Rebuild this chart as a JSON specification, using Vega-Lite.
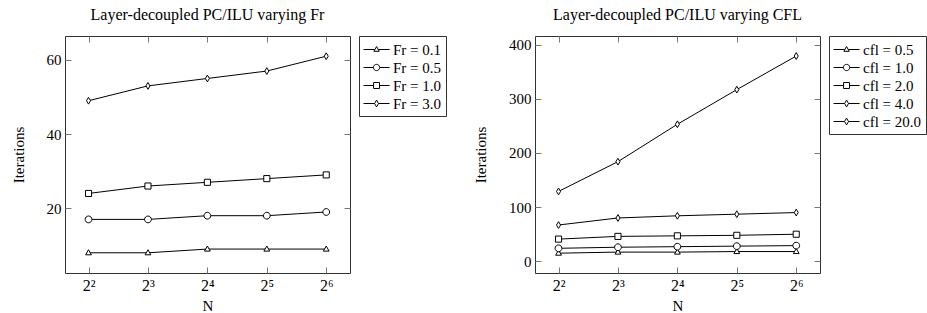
{
  "$schema": "https://vega.github.io/schema/vega-lite/v6.json",
  "padding": {"left": 10, "top": 6, "right": 0, "bottom": 0},
  "datasets": {
    "fr": [
      {"s": "Fr = 0.1", "N": 4, "it": 8}, {"s": "Fr = 0.1", "N": 8, "it": 8}, {"s": "Fr = 0.1", "N": 16, "it": 9}, {"s": "Fr = 0.1", "N": 32, "it": 9}, {"s": "Fr = 0.1", "N": 64, "it": 9},
      {"s": "Fr = 0.5", "N": 4, "it": 17}, {"s": "Fr = 0.5", "N": 8, "it": 17}, {"s": "Fr = 0.5", "N": 16, "it": 18}, {"s": "Fr = 0.5", "N": 32, "it": 18}, {"s": "Fr = 0.5", "N": 64, "it": 19},
      {"s": "Fr = 1.0", "N": 4, "it": 24}, {"s": "Fr = 1.0", "N": 8, "it": 26}, {"s": "Fr = 1.0", "N": 16, "it": 27}, {"s": "Fr = 1.0", "N": 32, "it": 28}, {"s": "Fr = 1.0", "N": 64, "it": 29},
      {"s": "Fr = 3.0", "N": 4, "it": 49}, {"s": "Fr = 3.0", "N": 8, "it": 53}, {"s": "Fr = 3.0", "N": 16, "it": 55}, {"s": "Fr = 3.0", "N": 32, "it": 57}, {"s": "Fr = 3.0", "N": 64, "it": 61}
    ],
    "cfl": [
      {"s": "cfl = 0.5", "N": 4, "it": 15}, {"s": "cfl = 0.5", "N": 8, "it": 17}, {"s": "cfl = 0.5", "N": 16, "it": 17}, {"s": "cfl = 0.5", "N": 32, "it": 18}, {"s": "cfl = 0.5", "N": 64, "it": 18},
      {"s": "cfl = 1.0", "N": 4, "it": 24}, {"s": "cfl = 1.0", "N": 8, "it": 26}, {"s": "cfl = 1.0", "N": 16, "it": 27}, {"s": "cfl = 1.0", "N": 32, "it": 28}, {"s": "cfl = 1.0", "N": 64, "it": 29},
      {"s": "cfl = 2.0", "N": 4, "it": 41}, {"s": "cfl = 2.0", "N": 8, "it": 46}, {"s": "cfl = 2.0", "N": 16, "it": 47}, {"s": "cfl = 2.0", "N": 32, "it": 48}, {"s": "cfl = 2.0", "N": 64, "it": 50},
      {"s": "cfl = 4.0", "N": 4, "it": 67}, {"s": "cfl = 4.0", "N": 8, "it": 80}, {"s": "cfl = 4.0", "N": 16, "it": 84}, {"s": "cfl = 4.0", "N": 32, "it": 87}, {"s": "cfl = 4.0", "N": 64, "it": 90},
      {"s": "cfl = 20.0", "N": 4, "it": 129}, {"s": "cfl = 20.0", "N": 8, "it": 184}, {"s": "cfl = 20.0", "N": 16, "it": 253}, {"s": "cfl = 20.0", "N": 32, "it": 317}, {"s": "cfl = 20.0", "N": 64, "it": 379}
    ]
  },
  "spacing": 26,
  "resolve": {"scale": {"shape": "independent", "x": "independent", "y": "independent"}, "legend": {"shape": "independent"}},
  "hconcat": [
    {
      "width": 285, "height": 237,
      "title": "Layer-decoupled PC/ILU varying Fr",
      "data": {"name": "fr"},
      "resolve": {"scale": {"shape": "independent"}, "axis": {"x": "independent", "y": "independent"}, "legend": {"shape": "independent"}},
      "layer": [
        {
          "mark": {"type": "line", "color": "black", "strokeWidth": 1},
          "encoding": {
            "x": {"field": "N", "type": "quantitative", "scale": {"type": "log", "base": 2, "domain": [3.04, 84.45], "nice": false},
                  "axis": {"orient": "bottom", "values": [4, 8, 16, 32, 64], "title": "N", "labelExpr": "datum.value == 4 ? '2²' : datum.value == 8 ? '2³' : datum.value == 16 ? '2⁴' : datum.value == 32 ? '2⁵' : '2⁶'"}},
            "y": {"field": "it", "type": "quantitative", "scale": {"domain": [2.55, 66.45], "nice": false, "zero": false},
                  "axis": {"orient": "left", "values": [20, 40, 60], "title": "Iterations"}},
            "detail": {"field": "s"}
          }
        },
        {
          "mark": {"type": "point", "filled": true, "fill": "white", "stroke": "black", "strokeWidth": 1, "opacity": 1, "size": 46},
          "encoding": {
            "x": {"field": "N", "type": "quantitative", "axis": {"orient": "top", "values": [4, 8, 16, 32, 64], "labels": false, "title": null}},
            "y": {"field": "it", "type": "quantitative", "axis": {"orient": "right", "values": [20, 40, 60], "labels": false, "title": null}},
            "shape": {"field": "s", "type": "nominal", "legend": null,
                      "scale": {"domain": ["Fr = 0.1", "Fr = 0.5", "Fr = 1.0", "Fr = 3.0"],
                                "range": ["M0,-0.9L0.85,0.6L-0.85,0.6Z", "M1,0A1,1,0,1,1,-1,0A1,1,0,1,1,1,0Z", "M-0.9,-0.9H0.9V0.9H-0.9Z", "M0,-1L0.6,0L0,1L-0.6,0Z"]}}
          }
        },
        {
          "transform": [{"filter": "datum.N < 0"}],
          "mark": {"type": "point", "filled": false, "color": "black", "strokeWidth": 1, "opacity": 1, "size": 324},
          "encoding": {
            "x": {"field": "N", "type": "quantitative", "axis": null},
            "y": {"field": "it", "type": "quantitative", "axis": null},
            "shape": {"field": "s", "type": "nominal",
                      "scale": {"domain": ["Fr = 0.1", "Fr = 0.5", "Fr = 1.0", "Fr = 3.0"],
                                "range": ["M-1,0H0.25M0.65,0H1.9M0.45,-0.33L0.75,0.2L0.15,0.2Z", "M-1,0H0.1M0.8,0H1.9M0.8,0A0.35,0.35,0,1,1,0.1,0A0.35,0.35,0,1,1,0.8,0Z", "M-1,0H0.12M0.78,0H1.9M0.12,-0.33H0.78V0.33H0.12Z", "M-1,0H0.23M0.67,0H1.9M0.45,-0.38L0.67,0L0.45,0.38L0.23,0Z"]},
                      "legend": {"orient": "right", "offset": 8, "title": null, "labelOffset": 11, "symbolSize": 324, "symbolStrokeColor": "black", "symbolStrokeWidth": 1,
                                 "labelExpr": "replace(replace(datum.label, ' ', ' '), ' ', ' ')"}}
          }
        }
      ]
    },
    {
      "width": 285, "height": 237,
      "title": "Layer-decoupled PC/ILU varying CFL",
      "data": {"name": "cfl"},
      "resolve": {"scale": {"shape": "independent"}, "axis": {"x": "independent", "y": "independent"}, "legend": {"shape": "independent"}},
      "layer": [
        {
          "mark": {"type": "line", "color": "black", "strokeWidth": 1},
          "encoding": {
            "x": {"field": "N", "type": "quantitative", "scale": {"type": "log", "base": 2, "domain": [3.04, 84.45], "nice": false},
                  "axis": {"orient": "bottom", "values": [4, 8, 16, 32, 64], "title": "N", "labelExpr": "datum.value == 4 ? '2²' : datum.value == 8 ? '2³' : datum.value == 16 ? '2⁴' : datum.value == 32 ? '2⁵' : '2⁶'"}},
            "y": {"field": "it", "type": "quantitative", "scale": {"domain": [-21.6, 416], "nice": false, "zero": false},
                  "axis": {"orient": "left", "values": [0, 100, 200, 300, 400], "title": "Iterations"}},
            "detail": {"field": "s"}
          }
        },
        {
          "mark": {"type": "point", "filled": true, "fill": "white", "stroke": "black", "strokeWidth": 1, "opacity": 1, "size": 46},
          "encoding": {
            "x": {"field": "N", "type": "quantitative", "axis": {"orient": "top", "values": [4, 8, 16, 32, 64], "labels": false, "title": null}},
            "y": {"field": "it", "type": "quantitative", "axis": {"orient": "right", "values": [0, 100, 200, 300, 400], "labels": false, "title": null}},
            "shape": {"field": "s", "type": "nominal", "legend": null,
                      "scale": {"domain": ["cfl = 0.5", "cfl = 1.0", "cfl = 2.0", "cfl = 4.0", "cfl = 20.0"],
                                "range": ["M0,-0.9L0.85,0.6L-0.85,0.6Z", "M1,0A1,1,0,1,1,-1,0A1,1,0,1,1,1,0Z", "M-0.9,-0.9H0.9V0.9H-0.9Z", "M0,-1L0.6,0L0,1L-0.6,0Z", "M0,-1L0.6,0L0,1L-0.6,0Z"]}}
          }
        },
        {
          "transform": [{"filter": "datum.N < 0"}],
          "mark": {"type": "point", "filled": false, "color": "black", "strokeWidth": 1, "opacity": 1, "size": 324},
          "encoding": {
            "x": {"field": "N", "type": "quantitative", "axis": null},
            "y": {"field": "it", "type": "quantitative", "axis": null},
            "shape": {"field": "s", "type": "nominal",
                      "scale": {"domain": ["cfl = 0.5", "cfl = 1.0", "cfl = 2.0", "cfl = 4.0", "cfl = 20.0"],
                                "range": ["M-1,0H0.25M0.65,0H1.9M0.45,-0.33L0.75,0.2L0.15,0.2Z", "M-1,0H0.1M0.8,0H1.9M0.8,0A0.35,0.35,0,1,1,0.1,0A0.35,0.35,0,1,1,0.8,0Z", "M-1,0H0.12M0.78,0H1.9M0.12,-0.33H0.78V0.33H0.12Z", "M-1,0H0.23M0.67,0H1.9M0.45,-0.38L0.67,0L0.45,0.38L0.23,0Z", "M-1,0H0.23M0.67,0H1.9M0.45,-0.38L0.67,0L0.45,0.38L0.23,0Z"]},
                      "legend": {"orient": "right", "offset": 8, "title": null, "labelOffset": 11, "symbolSize": 324, "symbolStrokeColor": "black", "symbolStrokeWidth": 1,
                                 "labelExpr": "replace(replace(datum.label, ' ', ' '), ' ', ' ')"}}
          }
        }
      ]
    }
  ],
  "config": {
    "font": "Liberation Serif",
    "view": {"stroke": "#333", "strokeWidth": 1},
    "title": {"font": "Liberation Serif", "fontSize": 16, "fontWeight": "normal", "color": "black", "frame": "group", "anchor": "middle", "offset": 13},
    "axis": {
      "domain": false, "grid": false,
      "tickSize": -6, "tickColor": "#777", "tickWidth": 1,
      "labelFont": "Liberation Serif", "labelFontSize": 15, "labelColor": "black", "labelPadding": 10,
      "labelFlush": false, "labelOverlap": false,
      "titleFont": "Liberation Serif", "titleFontSize": 15, "titleFontWeight": "normal", "titleColor": "black", "titlePadding": 20
    },
    "axisX": {"titlePadding": 5, "labelFontSize": 16},
    "legend": {
      "padding": 4, "strokeColor": "#333", "strokeWidth": 1, "fillColor": "white", "cornerRadius": 0,
      "labelFont": "Liberation Serif", "labelFontSize": 15, "labelColor": "black", "labelLimit": 300,
      "rowPadding": 0
    }
  }
}
